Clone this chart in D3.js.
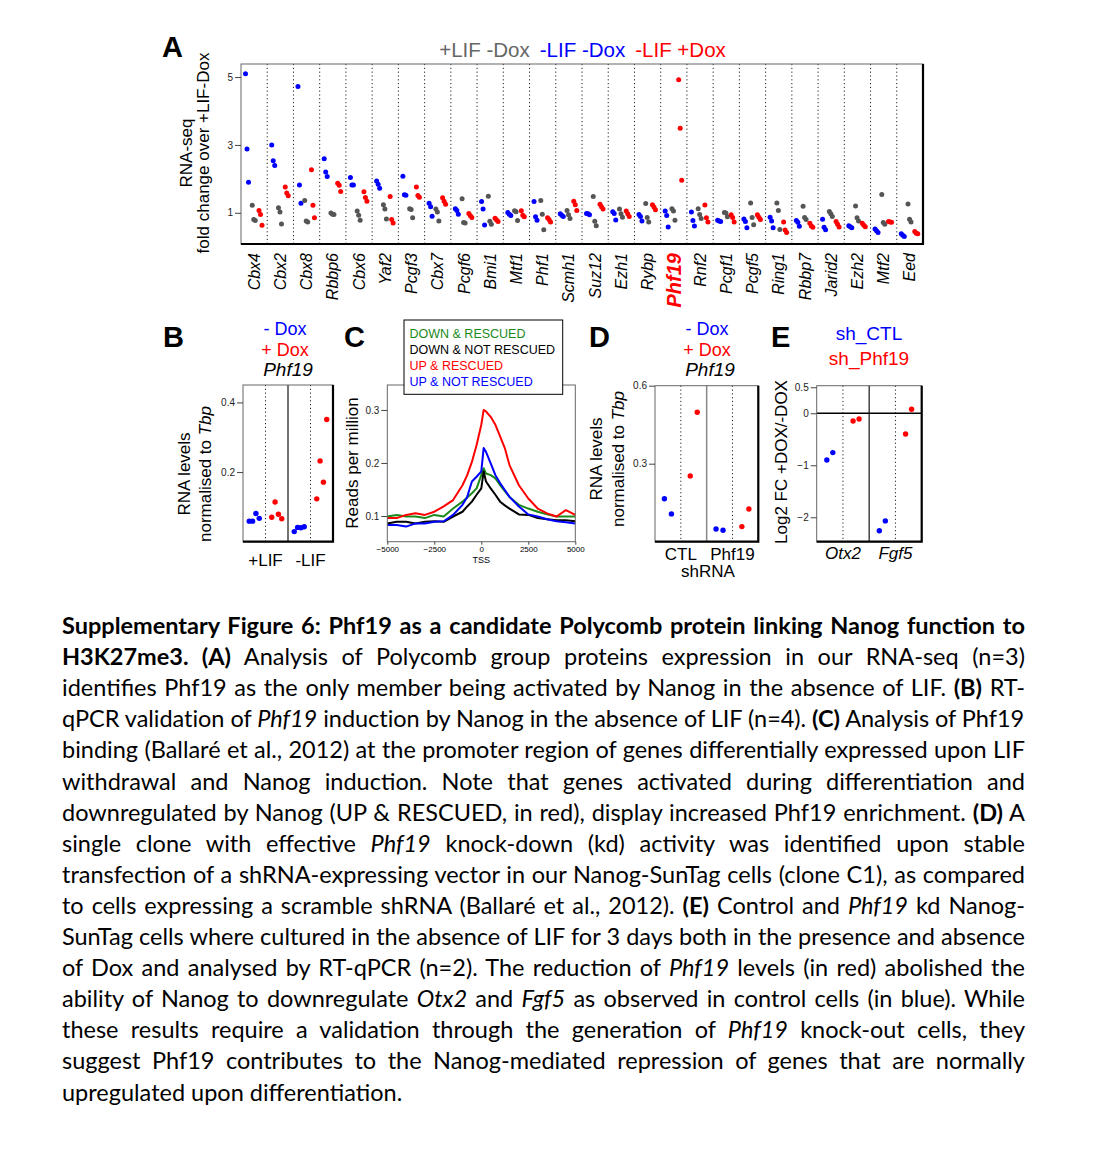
<!DOCTYPE html>
<meta charset="utf-8">
<style>
body { margin: 0; background: #fff; }
svg { display: block; }
</style>
<svg width="1101" height="1172" font-family="'Liberation Sans', Arial, sans-serif"></svg>
<script src="https://cdn.jsdelivr.net/npm/d3@7"></script>
<script>

// ---- A: RNA-seq fold change over +LIF-Dox, 3 replicates per condition ----
var genes = ["Cbx4","Cbx2","Cbx8","Rbbp6","Cbx6","Yaf2","Pcgf3","Cbx7","Pcgf6","Bmi1","Mtf1","Phf1","Scmh1",
             "Suz12","Ezh1","Rybp","Phf19","Rnf2","Pcgf1","Pcgf5","Ring1","Rbbp7","Jarid2","Ezh2","Mtf2","Eed"];

// +LIF -Dox (grey)
var lifNoDox = [
  [1.22,0.80,0.77],[1.15,1.02,0.67],[1.36,0.76,0.73],[0.99,0.96,0.95],[1.05,0.93,0.78],
  [1.24,1.11,0.82],[1.12,1.10,0.85],[1.11,1.02,0.76],[1.41,0.71,0.70],[1.49,0.75,0.66],
  [1.06,1.03,0.77],[1.36,0.96,0.50],[1.07,0.94,0.83],[1.48,0.75,0.62],[1.11,0.97,0.87],
  [1.27,0.86,0.73],[1.12,1.05,0.78],[1.12,0.95,0.83],[1.01,0.99,0.88],[1.29,0.86,0.65],
  [1.29,1.07,0.51],[1.19,0.86,0.80],[1.04,0.97,0.89],[1.20,0.85,0.76],[1.54,0.71,0.66],[1.26,0.81,0.73]];
// -LIF -Dox (blue)
var noLifNoDox = [
  [5.10,2.88,1.90],[3.00,2.53,2.39],[4.72,1.82,1.28],[2.59,2.20,2.07],[2.04,1.82,1.82],
  [1.94,1.84,1.72],[2.08,1.53,1.52],[1.28,1.18,0.90],[1.12,1.07,0.96],[1.33,1.11,0.64],
  [1.01,0.96,0.92],[1.33,0.88,0.78],[0.97,0.93,0.89],[0.98,0.97,0.94],[1.03,0.98,0.79],
  [0.95,0.89,0.76],[1.05,0.92,0.58],[1.02,0.77,0.61],[0.78,0.76,0.74],[0.82,0.74,0.56],
  [0.87,0.76,0.56],[0.77,0.72,0.60],[0.81,0.57,0.50],[0.62,0.59,0.56],[0.52,0.47,0.42],[0.38,0.34,0.30]];
// -LIF +Dox (red)
var noLifDox = [
  [1.07,0.95,0.63],[1.76,1.58,1.50],[2.27,1.22,0.85],[1.87,1.81,1.63],[1.62,1.45,1.34],
  [1.48,0.80,0.70],[1.76,1.51,1.46],[1.44,1.34,1.25],[0.98,0.91,0.86],[0.84,0.79,0.74],
  [1.06,0.93,0.88],[0.85,0.80,0.73],[1.34,1.24,1.07],[1.25,1.18,1.11],[1.05,0.97,0.89],
  [1.24,1.17,1.09],[4.92,3.49,1.96],[1.23,0.85,0.73],[0.94,0.86,0.73],[0.94,0.87,0.80],
  [0.73,0.49,0.42],[0.69,0.61,0.57],[0.74,0.66,0.58],[0.69,0.63,0.59],[0.74,0.73,0.72],[0.45,0.40,0.38]];
var aTicks = [1, 3, 5];

// ---- B: Phf19 RT-qPCR (n=4) ----
var bGroups = ["+LIF", "-LIF"];
var bNoDox = [[0.059,0.059,0.081,0.067],[0.029,0.041,0.040,0.043]];
var bDox   = [[0.070,0.114,0.079,0.066],[0.123,0.232,0.171,0.351]];
var bTicks = [0.2, 0.4];

// ---- C: Phf19 ChIP profile around TSS ----
var tssPos = [-5000,-4500,-4000,-3500,-3000,-2500,-2000,-1500,-1000,-750,-500,-250,0,125,250,500,750,
              1000,1250,1500,2000,2500,3000,3500,4000,4500,5000];
var downRescued    = [.099,.102,.099,.099,.096,.102,.099,.114,.127,.135,.143,.152,.177,.190,.180,.177,.171,
                      .158,.147,.136,.121,.114,.108,.103,.099,.099,.099];
var downNotRescued = [.086,.089,.089,.086,.089,.090,.089,.099,.108,.118,.127,.140,.152,.184,.165,.152,.140,
                      .127,.120,.114,.103,.102,.096,.094,.092,.092,.090];
var upRescued      = [.096,.096,.102,.105,.102,.108,.118,.130,.158,.177,.202,.234,.272,.300,.297,.287,.272,
                      .250,.228,.196,.158,.133,.114,.105,.099,.111,.102];
var upNotRescued   = [.083,.083,.080,.086,.086,.089,.090,.102,.121,.136,.165,.174,.184,.228,.221,.199,.177,
                      .162,.149,.136,.118,.103,.099,.094,.090,.088,.086];
var cSeriesNames = ["DOWN & RESCUED", "DOWN & NOT RESCUED", "UP & RESCUED", "UP & NOT RESCUED"];
var cYTicks = [0.1, 0.2, 0.3];
var cXTicks = [-5000, -2500, 0, 2500, 5000];

// ---- D: Phf19 levels in shRNA clones (n=2) ----
var dGroups = ["CTL", "Phf19"];
var dNoDox = [[0.165,0.107],[0.049,0.044]];
var dDox   = [[0.253,0.498],[0.058,0.126]];
var dTicks = [0.3, 0.6];

// ---- E: Log2 FC +DOX/-DOX ----
var eGenes = ["Otx2", "Fgf5"];
var eShCtl   = [[-0.898,-0.757],[-2.26,-2.07]];
var eShPhf19 = [[-0.148,-0.110],[-0.40,0.077]];
var eTicks = [-2, -1, 0, 0.5];

var BLUE = "#0000ff", RED = "#ff0000", GREY = "#555555", GREEN = "#1a8a1a";

var svg = d3.select("svg");
svg.append("rect").attr("width", 1101).attr("height", 1172).attr("fill", "#fff");

function frame(g, x0, x1, y0, y1) {
  g.append("rect")
      .attr("x", x0).attr("y", y0).attr("width", x1 - x0).attr("height", y1 - y0)
      .attr("fill", "none").attr("stroke", "#666").attr("stroke-width", 1);
  g.append("path")
      .attr("d", "M" + x0 + "," + y1 + "H" + x1 + "V" + y0)
      .attr("fill", "none").attr("stroke", "#000").attr("stroke-width", 2.2);
}

function vline(g, x, y0, y1, dotted, color) {
  g.append("line").attr("x1", x).attr("x2", x).attr("y1", y0).attr("y2", y1)
      .attr("stroke", color || "#000")
      .attr("stroke-width", dotted ? 1 : 1.5)
      .attr("stroke-dasharray", dotted ? "1.2,2.6" : null);
}

function leftAxis(g, x0, y, ticks, fmt, size) {
  g.append("g")
      .attr("transform", "translate(" + x0 + ",0)")
      .call(d3.axisLeft(y).tickValues(ticks).tickSize(6).tickPadding(2).tickFormat(fmt))
      .call(function(a) {
        a.select(".domain").remove();
        a.selectAll("line").attr("stroke", "#444");
        a.selectAll("text").attr("font-size", size || 10).attr("font-family", null).attr("fill", "#222");
      });
}

function ylabel(g, x, y, lines) {
  // lines: array of [baselineX, segments]
  lines.forEach(function(l) {
    var t = g.append("text")
        .attr("transform", "translate(" + l[0] + "," + y + ") rotate(-90)")
        .attr("text-anchor", "middle").attr("font-size", 17);
    l[1].forEach(function(s) {
      t.append("tspan").attr("font-style", s[1] ? "italic" : null).text(s[0]);
    });
  });
}

function panelLetter(x, y, txt) {
  svg.append("text").attr("x", x).attr("y", y).attr("font-size", 29).attr("font-weight", "bold").text(txt);
}

// stacked "- Dox / + Dox / Phf19" header of panels B and D
function doxHeader(g, cxp) {
  g.append("text").attr("x", cxp).attr("y", 335).attr("text-anchor", "middle").attr("font-size", 18).attr("fill", BLUE).text("- Dox");
  g.append("text").attr("x", cxp).attr("y", 355.5).attr("text-anchor", "middle").attr("font-size", 18).attr("fill", RED).text("+ Dox");
  g.append("text").attr("x", cxp + 3).attr("y", 376).attr("text-anchor", "middle").attr("font-size", 19).attr("font-style", "italic").text("Phf19");
}

// =================== Panel A ===================
var gA = svg.append("g");
var ax = d3.scaleBand().domain(genes).range([241, 923]);
var ay = d3.scaleLinear().domain([0.08, 5.385]).range([244, 64]);
var aSeries = [
  {key: "blue", color: BLUE, vals: noLifNoDox},
  {key: "grey", color: GREY, vals: lifNoDox},
  {key: "red",  color: RED,  vals: noLifDox}
];
var aGroupPos = d3.scalePoint().domain(["blue", "grey", "red"]).range([6, 19.5]);
var aRep = d3.scalePoint().domain([0, 1, 2]).range([-1.5, 1.5]);

genes.slice(1).forEach(function(gname) { vline(gA, ax(gname), 64, 244, true, "#222"); });

var aPoints = [];
aSeries.forEach(function(s) {
  s.vals.forEach(function(reps, gi) {
    reps.forEach(function(v, ri) {
      aPoints.push({gene: genes[gi], key: s.key, color: s.color, v: v, r: ri});
    });
  });
});
gA.selectAll("circle.pt").data(aPoints).enter().append("circle")
    .attr("cx", function(d) { return ax(d.gene) + aGroupPos(d.key) + aRep(d.r); })
    .attr("cy", function(d) { return ay(d.v); })
    .attr("r", 2.5)
    .attr("fill", function(d) { return d.color; });

frame(gA, 241, 923, 64, 244);
leftAxis(gA, 241, ay, aTicks, d3.format("d"), 10);

gA.selectAll("text.gene").data(genes).enter().append("text")
    .attr("transform", function(d) { return "translate(" + (ax(d) + ax.bandwidth() / 2) + ",253) rotate(-90)"; })
    .attr("text-anchor", "end")
    .attr("dy", "0.35em")
    .attr("font-style", "italic")
    .attr("font-weight", function(d) { return d === "Phf19" ? "bold" : null; })
    .attr("font-size", function(d) { return d === "Phf19" ? 20 : 16; })
    .attr("fill", function(d) { return d === "Phf19" ? RED : "#000"; })
    .text(function(d) { return d; });

ylabel(gA, 0, 153, [[192, [["RNA-seq"]]], [209, [["fold change over +LIF-Dox"]]]]);

var aTitle = gA.append("text").attr("x", 582.5).attr("y", 57).attr("text-anchor", "middle").attr("font-size", 20.5);
aTitle.append("tspan").attr("fill", "#666").text("+LIF -Dox");
aTitle.append("tspan").attr("fill", BLUE).attr("dx", 10).text("-LIF -Dox");
aTitle.append("tspan").attr("fill", RED).attr("dx", 10).text("-LIF +Dox");
panelLetter(162, 57, "A");

// =================== dot panels B, D, E ===================
function dotPanel(o) {
  var g = svg.append("g");
  var x = d3.scaleBand().domain(o.groups).range([o.x0, o.x1]);
  var inner = d3.scaleBand().domain([0, 1]).range([0, x.bandwidth()]);
  var y = d3.scaleLinear().domain(o.yDomain).range([o.y1, o.y0]);
  var rep = d3.scalePoint().domain(d3.range(o.a[0].length)).range(o.jitter);

  o.groups.forEach(function(gr, i) {
    vline(g, x(gr) + x.bandwidth() / 2, o.y0, o.y1, true, "#222");
    if (i > 0) vline(g, x(gr), o.y0, o.y1, false, o.midColor || "#444");
  });
  if (o.zeroLine) {
    g.append("line").attr("x1", o.x0).attr("x2", o.x1).attr("y1", y(0)).attr("y2", y(0))
        .attr("stroke", "#000").attr("stroke-width", 1.5);
  }

  var pts = [];
  [o.a, o.b].forEach(function(series, si) {
    series.forEach(function(reps, gi) {
      reps.forEach(function(v, ri) { pts.push({g: o.groups[gi], s: si, r: ri, v: v}); });
    });
  });
  g.selectAll("circle").data(pts).enter().append("circle")
      .attr("cx", function(d) { return x(d.g) + inner(d.s) + inner.bandwidth() / 2 + rep(d.r); })
      .attr("cy", function(d) { return y(d.v); })
      .attr("r", 2.7)
      .attr("fill", function(d) { return d.s === 0 ? BLUE : RED; });

  frame(g, o.x0, o.x1, o.y0, o.y1);
  leftAxis(g, o.x0, y, o.ticks, o.fmt, 10);

  g.selectAll("text.grp").data(o.groups).enter().append("text")
      .attr("x", function(d) { return x(d) + x.bandwidth() / 2 + (o.labelShift || 0); })
      .attr("y", o.labelY)
      .attr("text-anchor", "middle")
      .attr("font-size", 17)
      .attr("font-style", o.italicGroups ? "italic" : null)
      .text(function(d) { return d; });
  return g;
}

// B
var gB = dotPanel({x0: 243, x1: 333, y0: 385, y1: 541.7, groups: bGroups, a: bNoDox, b: bDox,
  yDomain: [0, 0.45], ticks: bTicks, fmt: d3.format(".1f"), jitter: [-5, 5], labelY: 566});
ylabel(gB, 0, 474, [[190, [["RNA levels"]]], [211, [["normalised to "], ["Tbp", true]]]]);
doxHeader(gB, 285);
panelLetter(163, 347, "B");

// D
var gD = dotPanel({x0: 655, x1: 758.3, y0: 385.7, y1: 541.7, groups: dGroups, a: dNoDox, b: dDox,
  yDomain: [0, 0.6], ticks: dTicks, fmt: d3.format(".1f"), jitter: [-3.5, 3.5], labelY: 560, midColor: "#888"});
ylabel(gD, 0, 459, [[602, [["RNA levels"]]], [624, [["normalised to "], ["Tbp", true]]]]);
gD.append("text").attr("x", 708).attr("y", 577).attr("text-anchor", "middle").attr("font-size", 17).text("shRNA");
doxHeader(gD, 707);
panelLetter(589, 347, "D");

// E
var gE = dotPanel({x0: 816.7, x1: 921.7, y0: 385.7, y1: 541.7, groups: eGenes, a: eShCtl, b: eShPhf19,
  yDomain: [-2.47, 0.53], ticks: eTicks, fmt: function(d) { return d === 0.5 ? "0.5" : d3.format("d")(d); },
  jitter: [-3, 3], labelY: 559, italicGroups: true, zeroLine: true});
ylabel(gE, 0, 462, [[787, [["Log2 FC +DOX/-DOX"]]]]);
gE.append("text").attr("x", 869).attr("y", 340).attr("text-anchor", "middle").attr("font-size", 19).attr("fill", BLUE).text("sh_CTL");
gE.append("text").attr("x", 869).attr("y", 365).attr("text-anchor", "middle").attr("font-size", 19).attr("fill", RED).text("sh_Phf19");
panelLetter(771, 347, "E");

// =================== Panel C ===================
var gC = svg.append("g");
var cx = d3.scaleLinear().domain([-5000, 5000]).range([387.3, 575.3]);
var cy = d3.scaleLinear().domain([0.0515, 0.347]).range([541.7, 385]);
var cSeries = [
  {name: cSeriesNames[0], color: GREEN, vals: downRescued},
  {name: cSeriesNames[1], color: "#000", vals: downNotRescued},
  {name: cSeriesNames[2], color: RED, vals: upRescued},
  {name: cSeriesNames[3], color: BLUE, vals: upNotRescued}
];
var cLine = d3.line().x(function(d, i) { return cx(tssPos[i]); }).y(function(d) { return cy(d); });
gC.selectAll("path.prof").data(cSeries).enter().append("path")
    .attr("d", function(s) { return cLine(s.vals); })
    .attr("fill", "none")
    .attr("stroke", function(s) { return s.color; })
    .attr("stroke-width", 2)
    .attr("stroke-linejoin", "round");
gC.append("rect").attr("x", 387.3).attr("y", 385).attr("width", 188).attr("height", 156.7)
    .attr("fill", "none").attr("stroke", "#666").attr("stroke-width", 1);
leftAxis(gC, 387.3, cy, cYTicks, d3.format(".1f"), 10);
gC.append("g")
    .attr("transform", "translate(0,541.7)")
    .call(d3.axisBottom(cx).tickValues(cXTicks).tickSize(3).tickPadding(2).tickFormat(d3.format("d")))
    .call(function(a) {
      a.select(".domain").remove();
      a.selectAll("line").attr("stroke", "#444");
      a.selectAll("text").attr("font-size", 8).attr("font-family", null);
    });
gC.append("text").attr("x", cx(0)).attr("y", 563).attr("text-anchor", "middle").attr("font-size", 9).text("TSS");
ylabel(gC, 0, 463, [[358, [["Reads per million"]]]]);

// legend box
gC.append("rect").attr("x", 404).attr("y", 320).attr("width", 158.7).attr("height", 74.3)
    .attr("fill", "#fff").attr("stroke", "#000").attr("stroke-width", 1);
gC.selectAll("text.leg").data(cSeries).enter().append("text")
    .attr("x", 409.5)
    .attr("y", function(d, i) { return 338.3 + i * 15.8; })
    .attr("font-size", 12.5)
    .attr("fill", function(d) { return d.color; })
    .text(function(d) { return d.name; });
panelLetter(344, 347, "C");

// =================== Caption ===================
var captionLines = [
  [["b", "Supplementary Figure 6: Phf19 as a candidate Polycomb protein linking Nanog function to"]],
  [["b", "H3K27me3. (A)"], ["r", " Analysis of Polycomb group proteins expression in our RNA-seq (n=3)"]],
  [["r", "identifies Phf19 as the only member being activated by Nanog in the absence of LIF. "], ["b", "(B)"], ["r", " RT-"]],
  [["r", "qPCR validation of "], ["i", "Phf19"], ["r", " induction by Nanog in the absence of LIF (n=4). "], ["b", "(C)"], ["r", " Analysis of Phf19"]],
  [["r", "binding (Ballaré et al., 2012) at the promoter region of genes differentially expressed upon LIF"]],
  [["r", "withdrawal and Nanog induction. Note that genes activated during differentiation and"]],
  [["r", "downregulated by Nanog (UP & RESCUED, in red), display increased Phf19 enrichment. "], ["b", "(D)"], ["r", " A"]],
  [["r", "single clone with effective "], ["i", "Phf19"], ["r", " knock-down (kd) activity was identified upon stable"]],
  [["r", "transfection of a shRNA-expressing vector in our Nanog-SunTag cells (clone C1), as compared"]],
  [["r", "to cells expressing a scramble shRNA (Ballaré et al., 2012). "], ["b", "(E)"], ["r", " Control and "], ["i", "Phf19"], ["r", " kd Nanog-"]],
  [["r", "SunTag cells where cultured in the absence of LIF for 3 days both in the presence and absence"]],
  [["r", "of Dox and analysed by RT-qPCR (n=2). The reduction of "], ["i", "Phf19"], ["r", " levels (in red) abolished the"]],
  [["r", "ability of Nanog to downregulate "], ["i", "Otx2"], ["r", " and "], ["i", "Fgf5"], ["r", " as observed in control cells (in blue). While"]],
  [["r", "these results require a validation through the generation of "], ["i", "Phf19"], ["r", " knock-out cells, they"]],
  [["r", "suggest Phf19 contributes to the Nanog-mediated repression of genes that are normally"]],
  [["r", "upregulated upon differentiation."]]
];

var capG = svg.append("g").attr("font-family", "Lato, 'Open Sans', sans-serif").attr("font-size", 23.5);
var capX0 = 62, capX1 = 1025, capY0 = 634, capStep = 31.1;
captionLines.forEach(function(segs, i) {
  var t = capG.append("text").attr("x", capX0).attr("y", capY0 + i * capStep).style("white-space", "pre");
  var full = "";
  segs.forEach(function(s) {
    t.append("tspan")
        .attr("font-weight", s[0] === "b" ? "bold" : null)
        .attr("font-style", s[0] === "i" ? "italic" : null)
        .text(s[1]);
    full += s[1];
  });
  if (i === captionLines.length - 1) return;
  var extra = (capX1 - capX0) - t.node().getComputedTextLength();
  var spaces = full.split(" ").length - 1;
  if (extra >= 0) {
    t.attr("word-spacing", extra / spaces);
  } else {
    t.attr("letter-spacing", extra / (full.length - 1));
  }
});

</script>
